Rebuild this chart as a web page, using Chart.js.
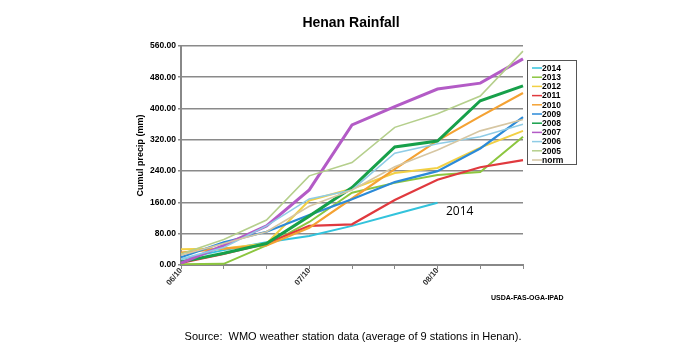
<!DOCTYPE html>
<html>
<head>
<meta charset="utf-8">
<script src="https://cdn.jsdelivr.net/npm/chart.js@4.4.1/dist/chart.umd.min.js"></script>
<style>
html,body{margin:0;padding:0;background:#fff;}
#wrap{position:relative;width:700px;height:360px;}
</style>
</head>
<body>
<div id="wrap"><canvas id="c" width="700" height="360"></canvas></div>
<script>
// Categories (dekad end dates)
const categories = ['06/10','06/20','06/30','07/10','07/20','07/31','08/10','08/20','08/31'];
const shownTickLabels = ['06/10','07/10','08/10'];
const yTicks = [0, 80, 160, 240, 320, 400, 480, 560];

// Cumulative precipitation (mm)
const s2014 = [15, 38, 58, 74, 100, 130, 159];
const s2013 = [2, 3, 50, 110, 185, 210, 230, 238, 328];
const s2012 = [40, 42, 55, 165, 195, 235, 248, 300, 343];
const s2011 = [5, 28, 55, 100, 104, 166, 218, 250, 268];
const s2010 = [32, 42, 50, 95, 170, 245, 318, 380, 440];
const s2009 = [20, 58, 85, 128, 168, 212, 240, 298, 378];
const s2008 = [8, 30, 55, 125, 198, 302, 317, 420, 458];
const s2007 = [5, 50, 100, 192, 358, 405, 450, 465, 527];
const s2006 = [15, 45, 100, 169, 192, 286, 310, 328, 360];
const s2005 = [28, 65, 115, 228, 262, 352, 387, 432, 547];
const sNorm = [25, 55, 85, 150, 192, 251, 294, 343, 372];

const seriesNames = ['2014','2013','2012','2011','2010','2009','2008','2007','2006','2005','norm'];
const seriesValues = [s2014, s2013, s2012, s2011, s2010, s2009, s2008, s2007, s2006, s2005, sNorm];
const seriesColors = ['#33c3dc','#8cc63f','#f2d044','#e0393e','#f4a233','#2b8ad8','#17a04a','#b35bc6','#8fcce6','#b5cf8c','#d6c6a2'];
const seriesWidths = [2, 2, 2, 2.2, 2.2, 2.2, 3, 3, 1.6, 1.6, 1.6];

const datasets = seriesNames.map((n, i) => ({
  label: n,
  data: seriesValues[i],
  borderColor: seriesColors[i],
  backgroundColor: seriesColors[i],
  borderWidth: seriesWidths[i],
  pointRadius: 0,
  tension: 0,
  fill: false,
  order: 20 - i
}));

const textPlugin = {
  id: 'texts',
  afterDraw(chart) {
    const ctx = chart.ctx;
    ctx.save();
    // Title
    ctx.fillStyle = '#000';
    ctx.font = 'bold 14px "Liberation Sans", Arial, sans-serif';
    ctx.textAlign = 'center';
    ctx.textBaseline = 'middle';
    ctx.fillText('Henan Rainfall', 351, 23);
    // Legend box
    const lx = 527, ly = 60, lw = 49, lh = 104;
    ctx.strokeStyle = '#555';
    ctx.lineWidth = 1;
    ctx.strokeRect(lx + 0.5, ly + 0.5, lw, lh);
    ctx.font = 'bold 8.5px "Liberation Sans", Arial, sans-serif';
    ctx.textAlign = 'left';
    chart.data.datasets.forEach((ds, i) => {
      const y = ly + 8 + i * 9.2;
      ctx.strokeStyle = ds.borderColor;
      ctx.lineWidth = 1.5;
      ctx.beginPath();
      ctx.moveTo(532, y);
      ctx.lineTo(542, y);
      ctx.stroke();
      ctx.fillStyle = '#000';
      ctx.fillText(ds.label, 542, y + 0.5);
    });
    // Annotation
    ctx.font = '12px "Open Sans", "Liberation Sans", sans-serif';
    ctx.fillStyle = '#000';
    ctx.textAlign = 'left';
    ctx.fillText('2014', 446, 212);
    // Credit
    ctx.font = 'bold 7px "Liberation Sans", Arial, sans-serif';
    ctx.fillText('USDA-FAS-OGA-IPAD', 491, 298);
    // Source
    ctx.font = '11px "Liberation Sans", Arial, sans-serif';
    ctx.textAlign = 'center';
    ctx.fillText('Source:  WMO weather station data (average of 9 stations in Henan).', 353, 337);
    ctx.restore();
  }
};

new Chart(document.getElementById('c'), {
  type: 'line',
  data: { labels: categories, datasets },
  options: {
    responsive: false,
    animation: false,
    layout: { padding: { left: 135, right: 177, top: 46, bottom: 60 } },
    plugins: { legend: { display: false }, tooltip: { enabled: false } },
    scales: {
      x: {
        offset: false,
        afterFit(s) { s.height = 35; },
        border: { color: '#888', width: 2 },
        grid: { drawOnChartArea: false, color: '#888', tickLength: 4, lineWidth: 1 },
        ticks: {
          autoSkip: false, minRotation: 50, maxRotation: 50, padding: -3,
          color: '#333',
          font: { family: '"Liberation Sans", Arial, sans-serif', size: 8, weight: 'bold' },
          callback(v, i) { const l = categories[i]; return shownTickLabels.includes(l) ? l : ''; }
        }
      },
      y: {
        min: yTicks[0], max: yTicks[yTicks.length - 1],
        afterFit(s) { s.width = 46; },
        afterBuildTicks(s) { s.ticks = yTicks.map(v => ({ value: v })); },
        border: { color: '#888', width: 2 },
        grid: { color: '#8a8a8a', lineWidth: 1.6, tickLength: 3 },
        ticks: {
          color: '#000', padding: 2,
          font: { family: '"Liberation Sans", Arial, sans-serif', size: 8.5, weight: 'bold' },
          callback(v) { return Number(v).toFixed(2); }
        },
        title: {
          display: true, text: 'Cumul precip (mm)', color: '#000', padding: 0,
          font: { family: '"Liberation Sans", Arial, sans-serif', size: 9, weight: 'bold' }
        }
      }
    }
  },
  plugins: [textPlugin]
});
</script>
</body>
</html>
